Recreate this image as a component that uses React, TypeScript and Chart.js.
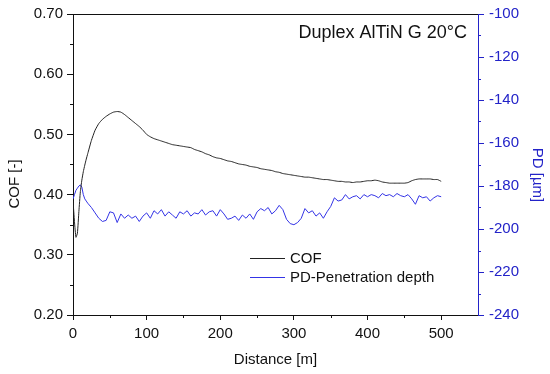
import React, { useEffect, useRef } from "react";
import { Chart, registerables } from "chart.js";

Chart.register(...registerables);

// ---------- data ----------
const distance = [
  0, 2, 4, 6, 8, 10, 12, 14, 16, 18, 20,
  25, 30, 35, 40, 45, 50, 55, 60, 65, 70, 75, 80, 85, 90, 95, 100,
  105, 110, 115, 120, 125, 130, 135, 140, 145, 150, 155, 160, 165, 170, 175, 180, 185, 190, 195, 200,
  205, 210, 215, 220, 225, 230, 235, 240, 245, 250, 255, 260, 265, 270, 275, 280, 285, 290, 295, 300,
  305, 310, 315, 320, 325, 330, 335, 340, 345, 350, 355, 360, 365, 370, 375, 380, 385, 390, 395, 400,
  405, 410, 415, 420, 425, 430, 435, 440, 445, 450, 455, 460, 465, 470, 475, 480, 485, 490, 495, 500,
];

const cof = [
  0.390, 0.355, 0.329, 0.336, 0.372, 0.405, 0.424, 0.438, 0.449, 0.459, 0.468,
  0.490, 0.507, 0.518, 0.525, 0.530, 0.534, 0.537, 0.538, 0.537, 0.533, 0.528, 0.523, 0.518, 0.513, 0.507, 0.500,
  0.496, 0.493, 0.491, 0.489, 0.487, 0.485, 0.483, 0.482, 0.481, 0.480, 0.479, 0.478, 0.475, 0.473, 0.471, 0.468, 0.466, 0.463, 0.461, 0.460,
  0.458, 0.456, 0.455, 0.453, 0.451, 0.450, 0.449, 0.447, 0.446, 0.445, 0.443, 0.442, 0.441, 0.440, 0.438, 0.437, 0.435, 0.434, 0.433, 0.432,
  0.431, 0.430, 0.429, 0.429, 0.428, 0.427, 0.426, 0.425, 0.425, 0.424, 0.423, 0.422, 0.422, 0.421, 0.421, 0.420, 0.421, 0.421, 0.422, 0.423,
  0.423, 0.424, 0.423, 0.421, 0.420, 0.419, 0.419, 0.419, 0.419, 0.419, 0.420, 0.423, 0.425, 0.426, 0.426, 0.426, 0.426, 0.425, 0.425, 0.422,
];

const pd = [
  -186, -184, -182, -181, -180, -179.5, -180.5, -184, -186, -187, -188,
  -190, -192.5, -195, -196.5, -196, -192, -192.5, -197, -193, -195, -193.5, -195, -194, -196.5, -194, -192.5,
  -195, -191.5, -193, -191, -194, -192, -193.5, -195, -192, -193, -191.5, -194, -192.5, -193, -191, -193.5, -192, -191.5, -194, -191,
  -193, -195.5, -195, -194, -196, -193.5, -195, -193, -195.5, -192, -190.5, -191.5, -190, -193, -191.5, -189, -191, -195.5, -197.5, -198,
  -197, -195, -190.5, -192.5, -191.5, -194, -192.5, -195, -192, -189.5, -185.5, -187, -186.5, -184, -186, -185, -184.5, -186, -184, -185,
  -184, -184.5, -185.5, -183.5, -184.5, -184, -185, -183.5, -184.5, -185, -184, -186, -188.5, -184.5, -185.5, -185, -187, -185.5, -184.5, -185,
];

const xTickValues = [0, 100, 200, 300, 400, 500];
const cofTickLabels = ["0.20", "0.30", "0.40", "0.50", "0.60", "0.70"];
const pdTickLabels = ["-240", "-220", "-200", "-180", "-160", "-140", "-120", "-100"];

const chartTitle = "Duplex AlTiN G 20°C";
const cofLabel = "COF";
const pdLabel = "PD-Penetration depth";

// ---------- styles ----------
const FONT = "'Liberation Sans', Arial, Helvetica, sans-serif";
const BLACK = "#111111";
const AXIS_BLUE = "#2323c8";
const LINE_BLUE = "#3434e6";
const LINE_BLACK = "#222222";

const overlayPlugin = {
  id: "overlay",
  afterDraw(chart: any) {
    const ctx = chart.ctx;
    const { x, y, y2 } = chart.scales;
    ctx.save();
    ctx.lineWidth = 1;

    // minor ticks
    const minor = (scale: any, color: string, dir: "down" | "left" | "right") => {
      const vals = scale.ticks.map((t: any) => t.value);
      ctx.strokeStyle = color;
      ctx.beginPath();
      for (let i = 0; i < vals.length - 1; i++) {
        const mid = (vals[i] + vals[i + 1]) / 2;
        const p = Math.round(scale.getPixelForValue(mid)) + 0.5;
        if (dir === "down") {
          ctx.moveTo(p, scale.top);
          ctx.lineTo(p, scale.top + 3);
        } else if (dir === "left") {
          ctx.moveTo(scale.right, p);
          ctx.lineTo(scale.right - 3, p);
        } else {
          ctx.moveTo(scale.left, p);
          ctx.lineTo(scale.left + 3, p);
        }
      }
      ctx.stroke();
    };
    minor(x, BLACK, "down");
    minor(y, BLACK, "left");
    minor(y2, AXIS_BLUE, "right");

    // axis titles (vertical)
    ctx.font = `15px ${FONT}`;
    ctx.textAlign = "center";
    ctx.textBaseline = "middle";
    ctx.fillStyle = BLACK;
    ctx.save();
    ctx.translate(15, 184);
    ctx.rotate(-Math.PI / 2);
    ctx.fillText("COF [-]", 0, 0);
    ctx.restore();
    ctx.fillStyle = AXIS_BLUE;
    ctx.save();
    ctx.translate(537, 175);
    ctx.rotate(Math.PI / 2);
    ctx.fillText("PD [µm]", 0, 0);
    ctx.restore();

    // in-plot title
    ctx.fillStyle = BLACK;
    ctx.font = `18px ${FONT}`;
    ctx.textAlign = "right";
    ctx.fillText(chartTitle, 467, 33);

    // legend
    ctx.font = `15px ${FONT}`;
    ctx.textAlign = "left";
    const rows = [258, 277];
    chart.data.datasets.forEach((ds: any, i: number) => {
      const yy = rows[i] + 0.5;
      ctx.strokeStyle = ds.borderColor;
      ctx.beginPath();
      ctx.moveTo(250, yy);
      ctx.lineTo(285, yy);
      ctx.stroke();
      ctx.fillStyle = BLACK;
      ctx.fillText(ds.label, 290, rows[i] + 1);
    });
    ctx.restore();
  },
};

export default function App() {
  const canvasRef = useRef<HTMLCanvasElement | null>(null);

  useEffect(() => {
    if (!canvasRef.current) return;
    const chart = new Chart(canvasRef.current, {
      type: "line",
      data: {
        datasets: [
          {
            label: cofLabel,
            data: distance.map((d, i) => ({ x: d, y: cof[i] })),
            borderColor: LINE_BLACK,
            borderWidth: 1,
            pointRadius: 0,
            tension: 0.15,
            yAxisID: "y",
          },
          {
            label: pdLabel,
            data: distance.map((d, i) => ({ x: d, y: pd[i] })),
            borderColor: LINE_BLUE,
            borderWidth: 1,
            pointRadius: 0,
            tension: 0,
            yAxisID: "y2",
          },
        ],
      },
      options: {
        responsive: false,
        animation: false,
        layout: { padding: { top: 14, left: 0, right: 0, bottom: 0 } },
        plugins: {
          legend: { display: false },
          tooltip: { enabled: false },
        },
        scales: {
          x: {
            type: "linear",
            position: "bottom",
            min: 0,
            max: 550,
            afterBuildTicks: (s: any) => {
              s.ticks = xTickValues.map((v) => ({ value: v }));
            },
            afterFit: (s: any) => {
              s.height = 59;
            },
            ticks: {
              color: BLACK,
              font: { family: FONT, size: 15 },
              padding: 5,
              maxRotation: 0,
              callback: (v: any) => String(v),
            },
            grid: { display: true, drawOnChartArea: false, drawTicks: true, tickLength: 5, color: BLACK },
            border: { display: true, color: BLACK, width: 1 },
            title: {
              display: true,
              text: "Distance [m]",
              color: BLACK,
              font: { family: FONT, size: 15 },
              padding: { top: 0, bottom: 5 },
            },
          },
          x2: {
            type: "linear",
            position: "top",
            min: 0,
            max: 550,
            afterFit: (s: any) => {
              s.height = 0;
            },
            ticks: { display: false },
            grid: { display: false },
            border: { display: true, color: BLACK, width: 1 },
          },
          y: {
            type: "linear",
            position: "left",
            min: 0.2,
            max: 0.7,
            afterBuildTicks: (s: any) => {
              s.ticks = cofTickLabels.map((l) => ({ value: parseFloat(l) }));
            },
            afterFit: (s: any) => {
              s.width = 73;
            },
            ticks: {
              color: BLACK,
              font: { family: FONT, size: 15 },
              padding: 4,
              callback: (v: any) => Number(v).toFixed(2),
            },
            grid: { display: true, drawOnChartArea: false, drawTicks: true, tickLength: 6, color: BLACK },
            border: { display: true, color: BLACK, width: 1 },
          },
          y2: {
            type: "linear",
            position: "right",
            min: -240,
            max: -100,
            afterBuildTicks: (s: any) => {
              s.ticks = pdTickLabels.map((l) => ({ value: parseFloat(l) }));
            },
            afterFit: (s: any) => {
              s.width = 72;
            },
            ticks: {
              color: AXIS_BLUE,
              font: { family: FONT, size: 15 },
              padding: 5,
              callback: (v: any) => String(v),
            },
            grid: { display: true, drawOnChartArea: false, drawTicks: true, tickLength: 6, color: AXIS_BLUE },
            border: { display: true, color: AXIS_BLUE, width: 1 },
          },
        },
      } as any,
      plugins: [overlayPlugin],
    });
    return () => chart.destroy();
  }, []);

  return (
    <div style={{ position: "fixed", left: 0, top: 0, width: 550, height: 374, background: "#ffffff" }}>
      <canvas ref={canvasRef} width={550} height={374} style={{ display: "block" }} />
    </div>
  );
}
